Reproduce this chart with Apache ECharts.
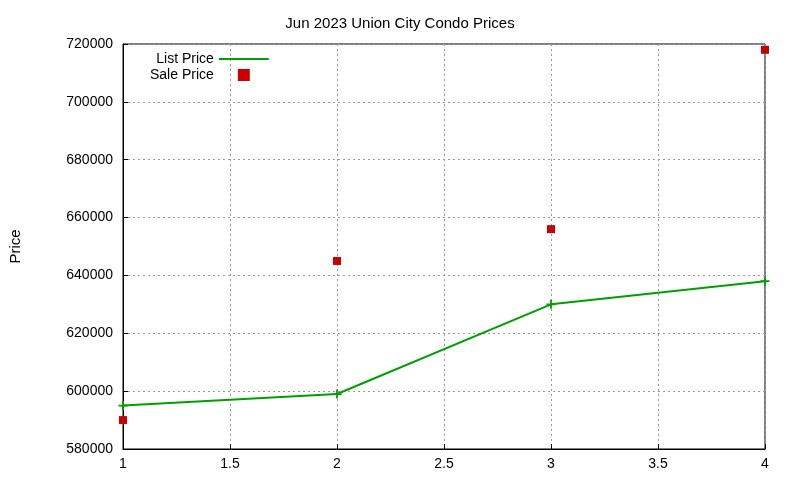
<!DOCTYPE html>
<html><head><meta charset="utf-8">
<script src="https://cdn.jsdelivr.net/npm/echarts@6/dist/echarts.min.js"></script>
<style>html,body{margin:0;padding:0;background:#fff}#c{width:800px;height:480px}</style>
</head><body><div id="c"></div>
<script>
const xValues = [1, 2, 3, 4];
const listPrice = [595000, 599000, 630000, 638000];
const salePrice = [590000, 645000, 656000, 718000];
const chart = echarts.init(document.getElementById('c'));
const font = 'Liberation Sans, Arial, sans-serif';
chart.setOption({
  animation: false,
  title: {text: 'Jun 2023 Union City Condo Prices', left: 'center', top: 11,
    textStyle: {fontFamily: font, fontSize: 15, fontWeight: 'normal', color: '#000'}},
  grid: {left: 120, right: 35, top: 44, bottom: 31, show: true, borderColor: '#000', borderWidth: 1, containLabel: false},
  legend: {left: 145, top: 47, orient: 'vertical', align: 'right', itemGap: 2, itemWidth: 50, itemHeight: 12,
    textStyle: {fontFamily: font, fontSize: 14, color: '#000'},
    data: [{name: 'List Price', icon: 'path://M0,5L50,5L50,7L0,7Z', itemStyle: {color: '#00a000', opacity: 1}},
           {name: 'Sale Price', icon: 'path://M21,2L29,2L29,10L21,10Z', itemStyle: {color: '#cc0000', opacity: 1}}]},
  xAxis: {type: 'value', min: 1, max: 4, interval: 0.5,
    axisLine: {lineStyle: {color: '#000'}}, axisTick: {inside: true, lineStyle: {color: '#000'}},
    axisLabel: {fontFamily: font, fontSize: 14, color: '#000', margin: 8},
    splitLine: {lineStyle: {color: '#999', type: [2, 3]}}},
  yAxis: {type: 'value', min: 580000, max: 720000, interval: 20000,
    name: 'Price', nameLocation: 'middle', nameGap: 100, nameRotate: 90,
    nameTextStyle: {fontFamily: font, fontSize: 15, color: '#000'},
    axisLine: {show: true, lineStyle: {color: '#000'}}, axisTick: {inside: true, lineStyle: {color: '#000'}},
    axisLabel: {fontFamily: font, fontSize: 14, color: '#000', margin: 10, formatter: v => String(v)},
    splitLine: {lineStyle: {color: '#999', type: [2, 3]}}},
  series: [
    {name: 'List Price', type: 'line', data: xValues.map((x, i) => [x, listPrice[i]]),
      symbol: 'path://M4,0L6,0L6,4L10,4L10,6L6,6L6,10L4,10L4,6L0,6L0,4L4,4Z', symbolSize: 9,
      lineStyle: {color: '#00a000', width: 2}, itemStyle: {color: '#00a000'}, color: '#00a000'},
    {name: 'Sale Price', type: 'scatter', data: xValues.map((x, i) => [x, salePrice[i]]),
      symbol: 'rect', symbolSize: 8, itemStyle: {color: '#cc0000', opacity: 1}, color: '#cc0000'}
  ]
});
</script></body></html>
